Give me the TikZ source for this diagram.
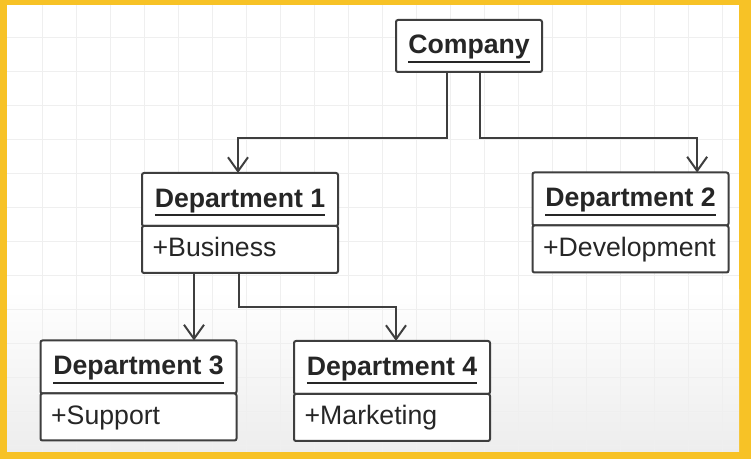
\documentclass[tikz,border=0pt]{standalone}
\usepackage{fontspec}
\setmainfont{Liberation Sans}
\usetikzlibrary{arrows.meta,positioning}

\definecolor{framegold}{RGB}{247,194,38}
\definecolor{gridgray}{RGB}{239,239,239}
\definecolor{umlline}{RGB}{62,62,62}
\definecolor{umltext}{RGB}{38,38,38}

\newcommand{\clsname}[1]{\vtop{\hbox{\rule{0pt}{18.5pt}\bfseries #1}\kern1pt\hrule height 1.4pt}}

\tikzset{every picture/.style={line width=0.75pt}}
\tikzset{
	clshead/.style={draw=umlline, line width=1.5pt, fill=white, rounded corners=1.5pt, outer sep=0pt, inner sep=0pt, minimum width=147pt, minimum height=39.75pt, text=umltext, font=\fontsize{20}{24}\selectfont},
	clsattr/.style={draw=umlline, line width=1.5pt, fill=white, rounded corners=1.5pt, outer sep=0pt, inner xsep=8pt, inner ysep=0pt, minimum width=147pt, minimum height=35.25pt, text width=131pt, align=left, text height=15pt, text depth=4pt, text=umltext, font=\fontsize{20}{24}\selectfont},
	assoc/.style={draw=umlline, line width=1.5pt, -{Straight Barb[length=10.5pt,width=15pt]}},
}

\begin{document}
\begin{tikzpicture}[x=0.75pt,y=0.75pt,yscale=-1,xscale=1]
	\useasboundingbox (0,0) rectangle (751,459);

	%Frame and grid
	\fill [framegold] (0,0) rectangle (751,459);
	\fill [white] (7,5) rectangle (739,452);
	\shade [top color=white, bottom color=gray!14] (7,290) rectangle (739,452);
	\foreach \gx in {42.7,76.7,...,739} \draw [gridgray] (\gx,5) -- (\gx,452);
	\foreach \gy in {37.7,71.7,...,452} \draw [gridgray] (7,\gy) -- (739,\gy);

	% Text Node
	\node [clshead, minimum width=109.5pt, minimum height=39pt] (comp) at (469,46) {\clsname{Company}};
	% Text Node
	\node [clshead] (d1) at (240,199.5) {\clsname{Department 1}};
	\node [clsattr, below=0pt of d1] (d1a) {+Business};
	% Text Node
	\node [clshead] (d2) at (630.5,199) {\clsname{Department 2}};
	\node [clsattr, below=0pt of d2] (d2a) {+Development};
	% Text Node
	\node [clshead] (d3) at (138.5,367) {\clsname{Department 3}};
	\node [clsattr, below=0pt of d3] (d3a) {+Support};
	% Text Node
	\node [clshead] (d4) at (392,367.5) {\clsname{Department 4}};
	\node [clsattr, below=0pt of d4] (d4a) {+Marketing};

	%Straight Lines
	\draw [assoc] ([xshift=-16.5pt]comp.south) -- ++(0,66) -| ([xshift=-1.5pt]d1.north);
	\draw [assoc] ([xshift=8.25pt]comp.south) -- ++(0,66) -| ([xshift=50pt]d2.north);
	\draw [assoc] ([xshift=-34.5pt]d1a.south) -- ([xshift=-34.5pt]d1a.south |- d3.north);
	\draw [assoc] ([xshift=-0.75pt]d1a.south) -- ++(0,34) -| ([xshift=3pt]d4.north);

\end{tikzpicture}
\end{document}
